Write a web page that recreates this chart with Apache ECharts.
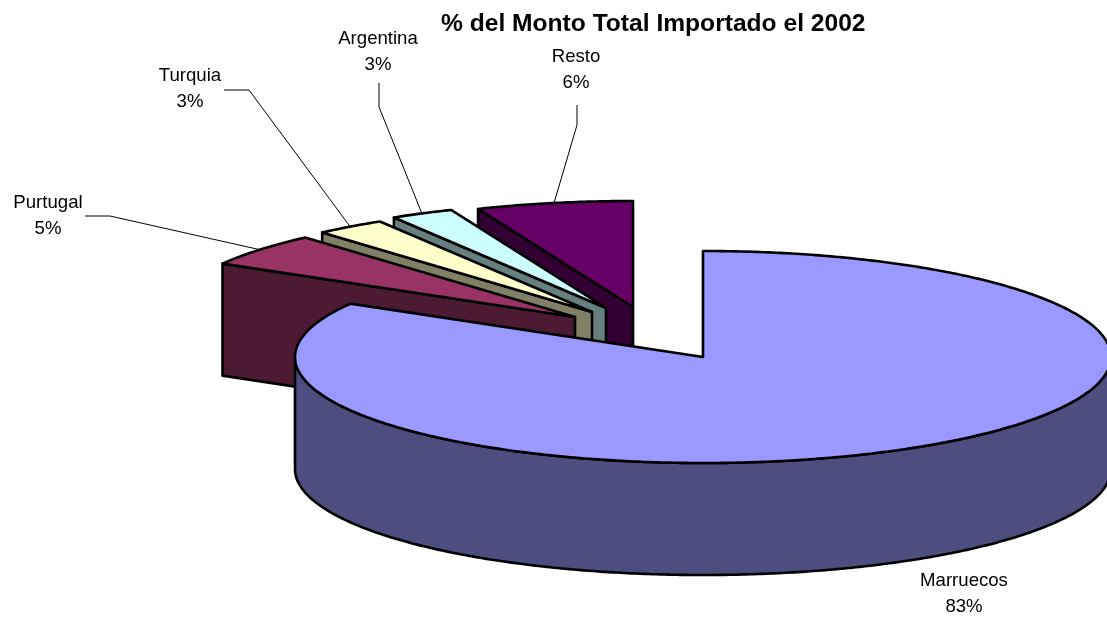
<!DOCTYPE html>
<html>
<head>
<meta charset="utf-8">
<style>html,body{margin:0;padding:0;background:#fff}#c{width:1107px;height:620px}</style>
<script src="https://cdn.jsdelivr.net/npm/echarts@6/dist/echarts.min.js"></script>
</head>
<body>
<div id="c"></div>
<script>
// Data
const chartTitle = '% del Monto Total Importado el 2002';
const categories = ['Marruecos', 'Purtugal', 'Turquia', 'Argentina', 'Resto'];
const shares = [83.4, 5.1, 2.8, 2.5, 6.2];

// Styles and layout
const topColors = ['#9999FF', '#993366', '#FFFFCC', '#CCFFFF', '#660066'];
const sideColors = ['#4D4D80', '#4D1A33', '#808066', '#668080', '#330033'];
const pie = { cx: 703, cy: 357, rx: 408, ry: 106, depth: 112 };
const explode = [[0, 0], [-128, -40], [-111, -45], [-97, -49], [-70, -50]];
const labelAt = [[964, 581], [48, 203], [190, 76], [378, 39], [576, 57]];
const elbows = [
  null,
  [[85, 216], [110, 216]],
  [[224, 90], [249, 90]],
  [[379, 83], [379, 107]],
  [[577, 105], [577, 125]]
];
const font = 'Arial, "Liberation Sans", sans-serif';
const labelSize = 18.6, lineGap = 26;

const total = shares.reduce((a, b) => a + b, 0);
let running = 0;
const slices = shares.map((v, i) => {
  const start = running; running += v;
  return { name: categories[i], value: [i, start, running, v] };
});

function renderSlice(params, api) {
  const i = api.value(0);
  const a0 = api.value(1) / total * 2 * Math.PI;
  const a1 = api.value(2) / total * 2 * Math.PI;
  const v = api.value(3);
  const ox = pie.cx + explode[i][0], oy = pie.cy + explode[i][1];
  const pt = (a, dz) => [ox + pie.rx * Math.sin(a), oy - pie.ry * Math.cos(a) + (dz || 0)];
  const arc = (from, to, dz) => {
    const n = Math.max(2, Math.ceil(Math.abs(to - from) / 0.01));
    const out = [];
    for (let k = 0; k <= n; k++) out.push(pt(from + (to - from) * k / n, dz));
    return out;
  };
  const stroke = { stroke: '#000', lineWidth: 2.6, lineJoin: 'round' };
  const kids = [];
  if (i === 0) {
    // outer wall, lower half of the ellipse
    const wallTop = arc(Math.PI / 2, 3 * Math.PI / 2, 0);
    const wallBottom = arc(3 * Math.PI / 2, Math.PI / 2, pie.depth);
    kids.push({ type: 'polygon', shape: { points: wallTop.concat(wallBottom) },
      style: Object.assign({ fill: sideColors[i] }, stroke) });
  } else {
    // cut face that looks toward the viewer
    const apex = [ox, oy], edge = pt(a0);
    kids.push({ type: 'polygon',
      shape: { points: [edge, apex, [apex[0], apex[1] + pie.depth], [edge[0], edge[1] + pie.depth]] },
      style: Object.assign({ fill: sideColors[i] }, stroke) });
  }
  kids.push({ type: 'polygon', shape: { points: [[ox, oy]].concat(arc(a0, a1, 0)) },
    style: Object.assign({ fill: topColors[i] }, stroke) });
  if (elbows[i]) {
    kids.push({ type: 'polyline',
      shape: { points: elbows[i].concat([pt((a0 + a1) / 2)]) },
      style: { stroke: '#000', lineWidth: 1, fill: null } });
  }
  [categories[i], v.toFixed(0) + '%'].forEach((t, k) => {
    kids.push({ type: 'text', z2: 10, style: {
      text: t, x: labelAt[i][0], y: labelAt[i][1] + k * lineGap,
      align: 'center', verticalAlign: 'middle', fill: '#000',
      font: labelSize + 'px ' + font } });
  });
  return { type: 'group', children: kids };
}

const chart = echarts.init(document.getElementById('c'), null, { renderer: 'canvas' });
chart.setOption({
  animation: false,
  backgroundColor: '#fff',
  title: { text: chartTitle, left: 436, top: 7,
    textStyle: { fontFamily: font, fontSize: 24.6, fontWeight: 'bold', color: '#000' } },
  series: [{
    type: 'custom',
    coordinateSystem: 'none',
    clip: false,
    renderItem: renderSlice,
    encode: { value: 3, itemName: 0 },
    // back slices first, the large front slice last
    data: slices.slice().reverse()
  }]
});
</script>
</body>
</html>
